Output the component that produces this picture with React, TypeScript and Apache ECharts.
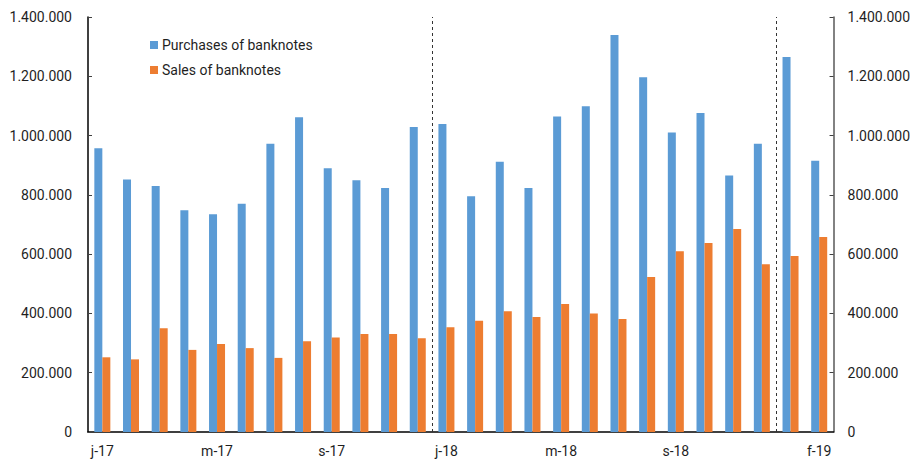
import React, { useEffect, useRef } from "react";
import * as echarts from "echarts";

const months = [
  "j-17", "f-17", "m-17", "a-17", "m-17", "j-17", "j-17", "a-17", "s-17", "o-17", "n-17", "d-17",
  "j-18", "f-18", "m-18", "a-18", "m-18", "j-18", "j-18", "a-18", "s-18", "o-18", "n-18", "d-18",
  "j-19", "f-19",
];
const purchases = [
  957000, 852000, 830000, 748000, 735000, 770000, 972000, 1062000, 890000, 849000, 823000, 1029000,
  1039000, 795000, 912000, 823000, 1064000, 1099000, 1339000, 1197000, 1010000, 1076000, 865000, 972000,
  1265000, 915000,
];
const sales = [
  252000, 245000, 350000, 277000, 297000, 283000, 250000, 306000, 319000, 331000, 331000, 316000,
  353000, 375000, 407000, 388000, 432000, 400000, 381000, 523000, 610000, 638000, 685000, 566000,
  594000, 658000,
];
const yearBreaks = [12, 24];
const seriesNames = ["Purchases of banknotes", "Sales of banknotes"];

const fmt = (v: number) => String(Math.round(v)).replace(/\B(?=(\d{3})+(?!\d))/g, ".");

export default function App() {
  const ref = useRef<HTMLDivElement>(null);
  useEffect(() => {
    const chart = echarts.init(ref.current!, undefined, { renderer: "svg" });
    const font = "Roboto";
    const textColor = "#1f1f1f";
    const yAxisBase = {
      type: "value" as const,
      min: 0,
      max: 1400000,
      interval: 200000,
      splitLine: { show: false },
      axisTick: { show: true, inside: true, length: 4, lineStyle: { color: "#404040" } },
      axisLabel: { formatter: fmt, color: textColor, fontFamily: font, fontSize: 14 },
    };
    chart.setOption({
      animation: false,
      grid: { left: 88, right: 75, top: 17, bottom: 28, containLabel: false },
      legend: {
        orient: "vertical",
        left: 145,
        top: 33,
        itemWidth: 8,
        itemHeight: 8,
        itemGap: 11,
        icon: "rect",
        data: seriesNames,
        textStyle: { color: textColor, fontFamily: font, fontSize: 14, padding: [0, 0, 0, -1] },
      },
      xAxis: [
        {
          type: "category",
          data: months,
          axisLine: { show: true, lineStyle: { color: "#000", width: 1.5 } },
          axisTick: { show: false },
          axisLabel: {
            interval: (idx: number) => (idx % 4 === 0 && idx < 24) || idx === 25,
            color: textColor,
            fontFamily: font,
            fontSize: 14,
            margin: 12,
          },
        },
        {
          type: "value",
          min: 0,
          max: months.length,
          show: false,
        },
      ],
      yAxis: [
        {
          ...yAxisBase,
          position: "left",
          axisLine: { show: true, lineStyle: { color: "#000", width: 1.5 } },
          axisLabel: { ...yAxisBase.axisLabel, margin: 16 },
        },
        {
          ...yAxisBase,
          position: "right",
          axisLine: { show: true, lineStyle: { color: "#595959", width: 1.5 } },
          axisLabel: { ...yAxisBase.axisLabel, margin: 14 },
        },
      ],
      series: [
        {
          name: seriesNames[0],
          type: "bar",
          data: purchases,
          barWidth: 8,
          barGap: "0%",
          itemStyle: { color: "#5B9BD5" },
        },
        {
          name: seriesNames[1],
          type: "bar",
          data: sales,
          barWidth: 8,
          barGap: "0%",
          itemStyle: { color: "#ED7D31" },
        },
        {
          name: "breaks",
          type: "line",
          xAxisIndex: 1,
          yAxisIndex: 0,
          data: [],
          markLine: {
            silent: true,
            symbol: ["none", "none"],
            label: { show: false },
            lineStyle: { color: "#333", type: [3, 3], width: 1 },
            data: yearBreaks.map((x) => ({ xAxis: x })),
          },
        },
      ],
    });
    return () => chart.dispose();
  }, []);
  return (
    <div
      ref={ref}
      style={{ position: "absolute", left: 0, top: 0, width: 913, height: 460 }}
    />
  );
}
